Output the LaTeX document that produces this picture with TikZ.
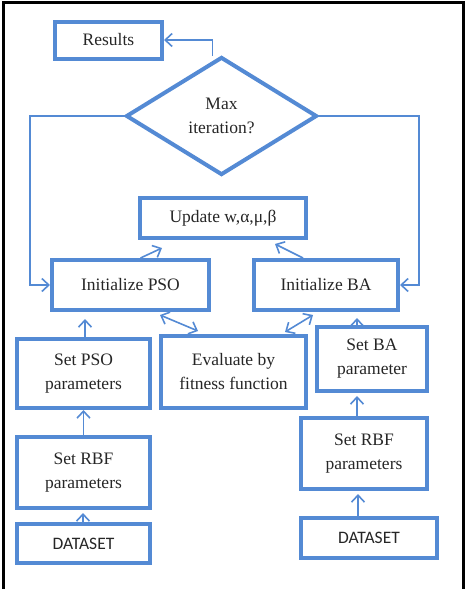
\documentclass[tikz,border=0pt]{standalone}
\usepackage{fontspec}
\setmainfont{Liberation Serif}
\newfontfamily\calib{Carlito}
\usetikzlibrary{shapes.geometric,arrows.meta,calc}
\definecolor{fblue}{RGB}{84,138,212}
\begin{document}
\begin{tikzpicture}[x=1pt,y=-1pt,
  box/.style={draw=fblue,line width=4pt,rectangle,inner sep=0pt,align=center,
    font=\fontsize{17.5}{24}\selectfont,text=black!85},
  arr/.style={draw=fblue,line width=1.6pt,-{Straight Barb[length=7pt,width=13pt,line width=1.6pt]}},
  darr/.style={draw=fblue,line width=1.6pt,{Straight Barb[length=7pt,width=13pt,line width=1.6pt]}-{Straight Barb[length=7pt,width=13pt,line width=1.6pt]}}]
\useasboundingbox (0,0) rectangle (467,589);
% outer frame
\draw[line width=3pt,black] (3.5,589) -- (3.5,2.5) -- (463.5,2.5) -- (463.5,589);
% nodes
\node[box,minimum width=107pt,minimum height=37pt] (res) at (108.5,40) {Results};
\node[box,diamond,minimum width=191pt,minimum height=118pt] (dia) at (221.5,116) {Max\\iteration?};
\node[box,minimum width=166pt,minimum height=40pt] (upd) at (223,218) {Update w,α,μ,β};
\node[box,minimum width=157pt,minimum height=50pt] (ipso) at (130.5,285) {Initialize PSO};
\node[box,minimum width=144pt,minimum height=50pt] (iba) at (326,285) {Initialize BA};
\node[box,minimum width=145pt,minimum height=72pt] (eval) at (233.5,372) {Evaluate by\\fitness function};
\node[box,minimum width=133pt,minimum height=69pt] (spso) at (83.5,373.5) {Set PSO\\parameters};
\node[box,minimum width=110pt,minimum height=64pt] (sba) at (372,359) {Set BA\\parameter};
\node[box,minimum width=133pt,minimum height=71pt] (rbfl) at (83.5,472.5) {Set RBF\\parameters};
\node[box,minimum width=133pt,minimum height=39pt,font=\calib\fontsize{17.5}{24}\selectfont] (dsl) at (83.5,543.5) {DATASET};
\node[box,minimum width=126pt,minimum height=71pt] (rbfr) at (364,453.5) {Set RBF\\parameters};
\node[box,minimum width=136pt,minimum height=40pt,font=\calib\fontsize{17.5}{24}\selectfont] (dsr) at (369,538) {DATASET};
% connectors
\draw[arr] ($(dia.north)+(-9,1)$) |- (res.east);
\draw[arr] (dia.west) -| ($(ipso.west)+(-20,0)$) -- (ipso.west);
\draw[arr] (dia.east) -| ($(iba.east)+(19,0)$) -- (iba.east);
\draw[arr] ($(ipso.north)+(10,0)$) -- ($(upd.south)+(-61,8)$);
\draw[arr] ($(iba.north)+(-23,0)$) -- ($(upd.south)+(52,4)$);
\draw[darr] ($(ipso.south)+(29.5,3)$) -- ($(eval.north)+(-35.5,-3)$);
\draw[darr] ($(iba.south)+(-13,3)$) -- ($(eval.north)+(51.5,-2)$);
\draw[arr] ($(spso.north)+(1.5,0)$) -- ($(ipso.south)+(-45.5,7)$);
\draw[arr] ($(sba.north)+(-15,0)$) -- ($(iba.south)+(31,6)$);
\draw[arr] (rbfl.north) -- (spso.south);
\draw[arr] ($(dsl.north)+(-0.5,0)$) -- ($(rbfl.south)+(-0.5,3)$);
\draw[arr] ($(rbfr.north)+(-7,0)$) -- ($(sba.south)+(-15,3)$);
\draw[arr] ($(dsr.north)+(-11,0)$) -- ($(rbfr.south)+(-6,3)$);
\end{tikzpicture}
\end{document}
